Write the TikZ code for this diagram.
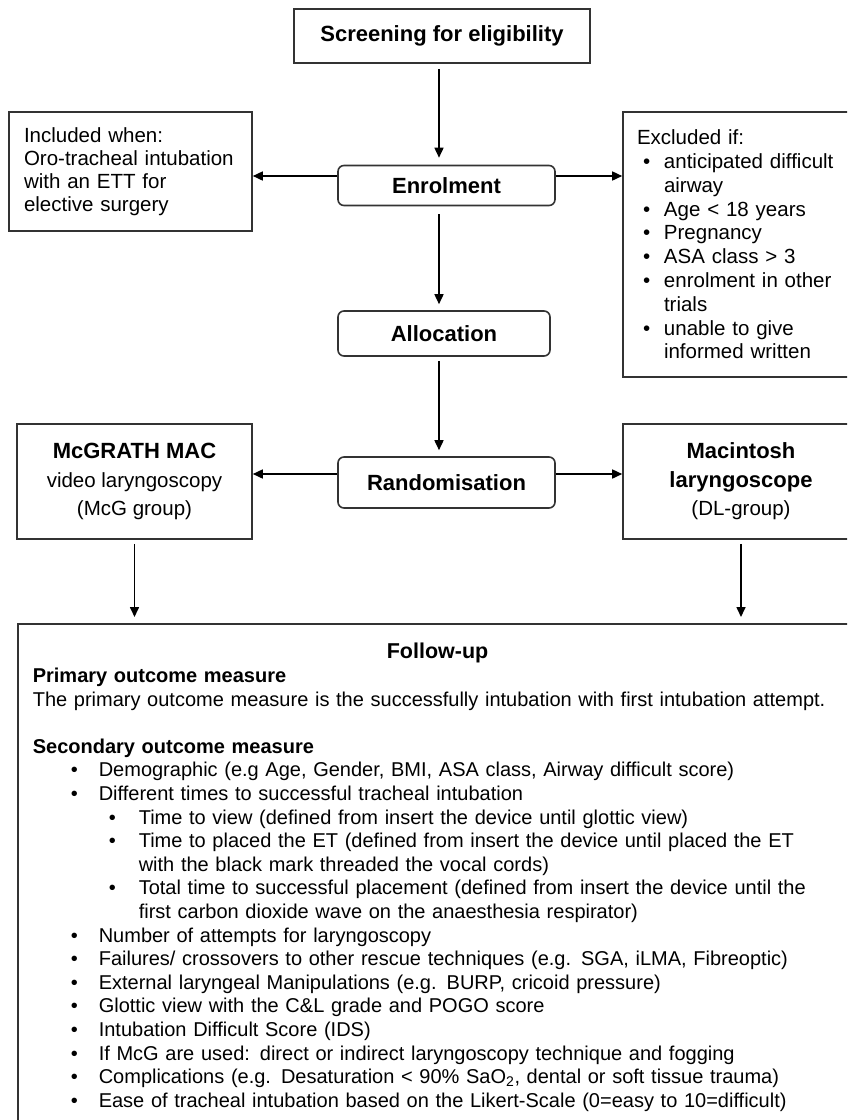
\documentclass[tikz,border=0pt]{standalone}
\usepackage{fontspec}
\setmainfont{Liberation Sans}
\usetikzlibrary{arrows.meta}
\begin{document}
\begin{tikzpicture}[x=1pt,y=-1pt,
  box/.style={draw=black!80,line width=1.6pt,rectangle,inner sep=0pt,font=\fontsize{20.5}{23.5}\selectfont},
  rbox/.style={box,rounded corners=6pt,font=\fontsize{22}{26}\selectfont\bfseries},
  arr/.style={draw=black,line width=1.6pt,-{Triangle[length=10pt,width=9pt]}}
]
\useasboundingbox (0,0) rectangle (847,1120);
\fill[white] (0,0) rectangle (847,1120);
\clip (0,0) rectangle (847,1120);

\node[box,minimum width=296pt,minimum height=54pt,font=\fontsize{22}{26}\selectfont\bfseries] (scr) at (442,36) {Screening for eligibility};
\node[rbox,minimum width=217pt,minimum height=40pt] (enrol) at (446.5,185.5) {Enrolment};
\node[rbox,minimum width=212pt,minimum height=45pt] (alloc) at (444,333.5) {Allocation};
\node[rbox,minimum width=217pt,minimum height=51pt] (rand) at (446.5,482.5) {Randomisation};

\node[box,minimum height=119pt,text width=213pt,align=left,inner xsep=15pt,font=\fontsize{20.5}{23}\selectfont] (incl) at (130.5,171.5)
  {Included when:\\Oro-tracheal intubation\\with an ETT for\\elective surgery};

\node[box,minimum height=265pt,text width=208pt,align=left,inner xsep=14pt,font=\fontsize{20.5}{23.8}\selectfont] (excl) at (741,244.5)
  {Excluded if:\\
   \hspace*{6pt}\makebox[21pt][l]{•}anticipated difficult\\
   \hspace*{27pt}airway\\
   \hspace*{6pt}\makebox[21pt][l]{•}Age < 18 years\\
   \hspace*{6pt}\makebox[21pt][l]{•}Pregnancy\\
   \hspace*{6pt}\makebox[21pt][l]{•}ASA class > 3\\
   \hspace*{6pt}\makebox[21pt][l]{•}enrolment in other\\
   \hspace*{27pt}trials\\
   \hspace*{6pt}\makebox[21pt][l]{•}unable to give\\
   \hspace*{27pt}informed written};

\node[box,minimum width=235pt,minimum height=115pt,align=center,font=\fontsize{20.5}{28.5}\selectfont] (mcg) at (134.5,481.5)
  {{\fontsize{22}{28.5}\selectfont\bfseries McGRATH MAC}\\video laryngoscopy\\(McG group)};
\node[box,minimum width=236pt,minimum height=115pt,align=center,font=\fontsize{20.5}{28.5}\selectfont] (mac) at (741,481.5)
  {{\fontsize{22}{28.5}\selectfont\bfseries Macintosh}\\{\fontsize{22}{28.5}\selectfont\bfseries laryngoscope}\\(DL-group)};

\node[box,anchor=north west,text width=812pt,inner xsep=15pt,inner ysep=0pt,align=left,font=\fontsize{20}{23.6}\selectfont] (fu) at (17,623)
  {\rule{0pt}{35pt}\hspace*{354pt}{\fontsize{21.5}{23.6}\selectfont\bfseries Follow-up}\\
   \textbf{Primary outcome measure}\\
   \mbox{The primary outcome measure is the successfully intubation with first intubation attempt.}\\
   \mbox{}\\
   \textbf{Secondary outcome measure}\\
   \hspace*{38pt}\makebox[28pt][l]{•}Demographic (e.g Age, Gender, BMI, ASA class, Airway difficult score)\\
   \hspace*{38pt}\makebox[28pt][l]{•}Different times to successful tracheal intubation\\
   \hspace*{76pt}\makebox[30pt][l]{•}Time to view (defined from insert the device until glottic view)\\
   \hspace*{76pt}\makebox[30pt][l]{•}\mbox{Time to placed the ET (defined from insert the device until placed the ET}\\
   \hspace*{106pt}with the black mark threaded the vocal cords)\\
   \hspace*{76pt}\makebox[30pt][l]{•}\mbox{Total time to successful placement (defined from insert the device until the}\\
   \hspace*{106pt}first carbon dioxide wave on the anaesthesia respirator)\\
   \hspace*{38pt}\makebox[28pt][l]{•}Number of attempts for laryngoscopy\\
   \hspace*{38pt}\makebox[28pt][l]{•}\mbox{Failures/ crossovers to other rescue techniques (e.g. SGA, iLMA, Fibreoptic)}\\
   \hspace*{38pt}\makebox[28pt][l]{•}External laryngeal Manipulations (e.g. BURP, cricoid pressure)\\
   \hspace*{38pt}\makebox[28pt][l]{•}Glottic view with the C\&L grade and POGO score\\
   \hspace*{38pt}\makebox[28pt][l]{•}Intubation Difficult Score (IDS)\\
   \hspace*{38pt}\makebox[28pt][l]{•}\mbox{If McG are used: direct or indirect laryngoscopy technique and fogging}\\
   \hspace*{38pt}\makebox[28pt][l]{•}\mbox{Complications (e.g. Desaturation < 90\% SaO\textsubscript{2}, dental or soft tissue trauma)}\\
   \hspace*{38pt}\makebox[28pt][l]{•}\mbox{Ease of tracheal intubation based on the Likert-Scale (0=easy to 10=difficult)}\rule[-30pt]{0pt}{30pt}};

\coordinate (colx) at (439,0);
\draw[arr,shorten <=5pt,shorten >=7pt] (scr.south -| colx) -- (enrol.north -| colx);
\draw[arr,shorten <=8pt,shorten >=6pt] (enrol.south -| colx) -- (alloc.north -| colx);
\draw[arr,shorten <=4pt,shorten >=6pt] (alloc.south -| colx) -- (rand.north -| colx);

\coordinate (e1) at ([yshift=9.5pt]enrol.west);
\coordinate (e2) at ([yshift=9.5pt]enrol.east);
\draw[arr] (e1) -- (e1 -| incl.east);
\draw[arr] (e2) -- (e2 -| excl.west);

\coordinate (r1) at ([yshift=8.5pt]rand.west);
\coordinate (r2) at ([yshift=8.5pt]rand.east);
\draw[arr] (r1) -- (r1 -| mcg.east);
\draw[arr] (r2) -- (r2 -| mac.west);

\draw[arr,shorten <=4pt,shorten >=6pt] (mcg.south) -- (mcg.south |- fu.north);
\draw[arr,shorten <=4pt,shorten >=6pt] (mac.south) -- (mac.south |- fu.north);
\end{tikzpicture}
\end{document}
